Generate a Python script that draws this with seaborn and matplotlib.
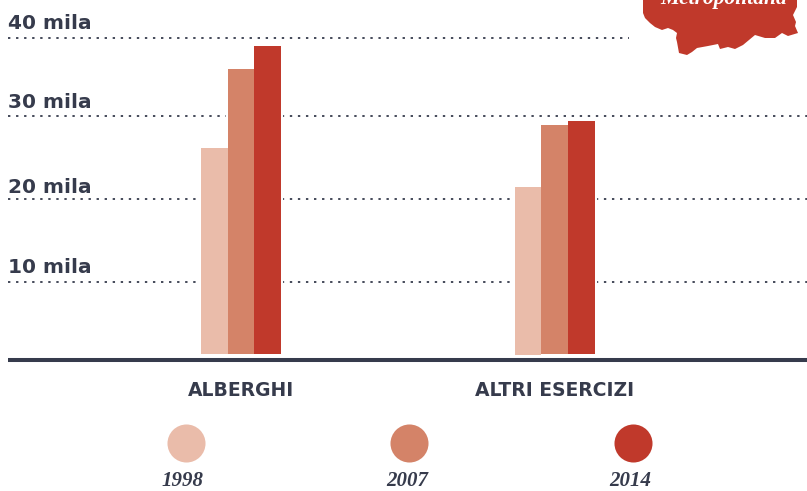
import pandas as pd
import seaborn as sns
import matplotlib.pyplot as plt
from matplotlib.patches import Rectangle

categories = ['ALBERGHI', 'ALTRI ESERCIZI']
years = ['1998', '2007', '2014']
values_1998 = [26.35, 21.55]
values_2007 = [36.15, 29.15]
values_2014 = [39.05, 29.65]
grid_values = [9.75, 20.05, 30.3, 39.95]
grid_labels = ['10 mila', '20 mila', '30 mila', '40 mila']
colors = ['#eabcaa', '#d48368', '#c0392b']
INK = '#363b4c'
BAR_GAP = 0.75  # bars float a little above the base line

blob_x = [643, 643, 645, 650, 655, 662, 668, 673, 677, 676, 677, 679, 687, 692, 697, 708, 718, 720, 728, 735,
          743, 749, 755, 765, 775, 782, 788, 798, 795, 796, 793, 797, 797]
blob_y = [0, 13, 18, 23, 27, 30, 28, 30, 33, 38, 42, 53, 55, 52, 48, 46, 44, 49, 47, 49,
          45, 40, 35, 38, 38, 33, 36, 33, 26, 22, 15, 7, 0]

df = pd.DataFrame({
    'cat': categories * 3,
    'year': [y for y in years for _ in categories],
    'val': values_1998 + values_2007 + values_2014,
})
df['height'] = df['val'] - BAR_GAP

sns.set_style('white')
plt.rcParams['font.family'] = ['DejaVu Sans']

fig = plt.figure(figsize=(8.07, 4.91), dpi=100)
ax = fig.add_axes([8 / 807, 131 / 491, 799 / 807, 360 / 491])
ax.patch.set_alpha(0)

sns.barplot(data=df, x='cat', y='height', hue='year', palette=colors, width=80 / 313.5, saturation=1,
            bottom=BAR_GAP, legend=False, ax=ax, zorder=3, edgecolor='none', linewidth=0)
ax.set_xlim(-233 / 313.5, 1 + 252.5 / 313.5)
ax.set_ylim(0, 360 / 8.05)
ax.set_xlabel('')
ax.set_ylabel('')
ax.set_yticks([])
ax.tick_params(axis='x', length=0, pad=15)
for lab in ax.get_xticklabels():
    lab.set_fontweight('bold')
    lab.set_fontsize(13.5)
    lab.set_color(INK)

# first bar of the second group reaches a pixel lower in the original
low_bar = ax.containers[0][1]
low_bar.set_y(low_bar.get_y() - 0.12)
low_bar.set_height(low_bar.get_height() + 0.12)

# white halo behind the bars cuts the dotted lines
for cont in ax.containers:
    for p in cont:
        ax.add_patch(Rectangle((p.get_x(), p.get_y()), p.get_width(), p.get_height(), fc='white', ec='white',
                               lw=3, zorder=2))

# the labels do not sit at one fixed distance from their lines
lifts = [9, 6, 8, 9]
for v, lab, lift in zip(grid_values, grid_labels, lifts):
    xmax = 0.777 if lab == '40 mila' else 1
    ax.plot([0, xmax], [v, v], transform=ax.get_yaxis_transform(), color=INK, lw=1.3,
            linestyle=(0, (1.3, 3.16)), zorder=1, dash_capstyle='butt')
    ax.annotate(lab, (0, v), xycoords=ax.get_yaxis_transform(), xytext=(0, lift * 0.72), textcoords='offset points',
                fontsize=14.5, fontweight='bold', color=INK, ha='left', va='baseline')

sns.despine(ax=ax, left=True, top=True, right=True)
ax.spines['bottom'].set_color(INK)
ax.spines['bottom'].set_linewidth(2.9)
ax.spines['bottom'].set_capstyle('butt')

# overlay in pixel coordinates for the legend and the map shape
ov = fig.add_axes([0, 0, 1, 1])
ov.set_xlim(0, 807)
ov.set_ylim(491, 0)
ov.axis('off')
ov.fill(blob_x, blob_y, color=colors[2], lw=0)
ov.text(724, 4, 'Metropolitana', color='white', fontsize=15.5, family='Liberation Serif', style='italic',
        fontweight='bold', ha='center', va='baseline')

for y, c, cx, tx in zip(years, colors, [185.5, 409, 632.5], [182.5, 407, 630]):
    ov.scatter([cx], [443], s=750, color=c, lw=0)
    ov.text(tx, 481, y, color=INK, fontsize=15, family='Liberation Serif', style='italic', fontweight='bold',
            ha='center', va='center')

fig.savefig('out.png', dpi=100)
